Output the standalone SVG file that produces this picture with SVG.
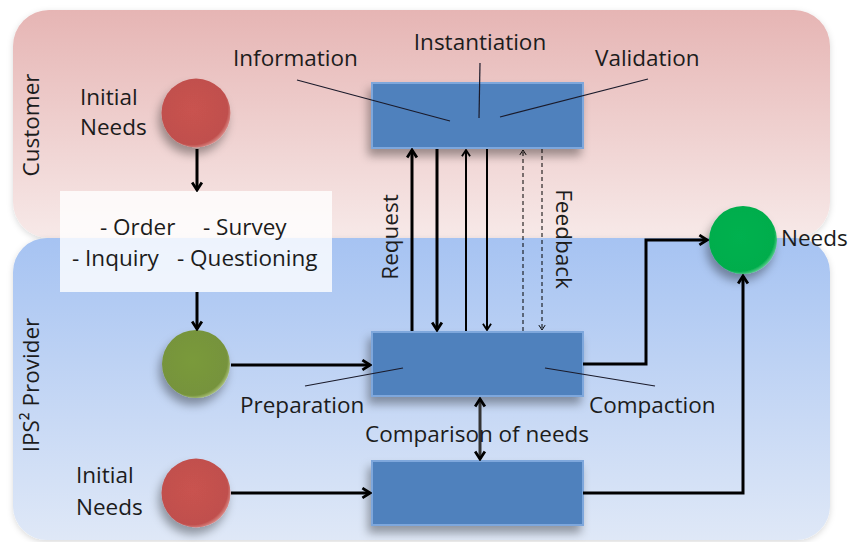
<svg xmlns="http://www.w3.org/2000/svg" width="851" height="542" viewBox="0 0 851 542">
<defs>
  <linearGradient id="gPink" x1="0" y1="0" x2="0" y2="1">
    <stop offset="0" stop-color="#e6b5b4"/>
    <stop offset="1" stop-color="#f7e9e8"/>
  </linearGradient>
  <linearGradient id="gBlue" x1="0" y1="0" x2="0" y2="1">
    <stop offset="0" stop-color="#a6c3f2"/>
    <stop offset="1" stop-color="#dfe8f7"/>
  </linearGradient>
  <radialGradient id="gRed" cx="0.45" cy="0.45" r="0.6">
    <stop offset="0" stop-color="#c9524f"/>
    <stop offset="0.85" stop-color="#c0504d"/>
    <stop offset="1" stop-color="#e9aaa7"/>
  </radialGradient>
  <radialGradient id="gGreen" cx="0.45" cy="0.45" r="0.6">
    <stop offset="0" stop-color="#00b14f"/>
    <stop offset="0.85" stop-color="#00ad4c"/>
    <stop offset="1" stop-color="#8fe0b0"/>
  </radialGradient>
  <radialGradient id="gOlive" cx="0.45" cy="0.45" r="0.6">
    <stop offset="0" stop-color="#7a9a3a"/>
    <stop offset="0.85" stop-color="#76933c"/>
    <stop offset="1" stop-color="#c9dba0"/>
  </radialGradient>
  <filter id="sh" x="-30%" y="-30%" width="160%" height="170%">
    <feDropShadow dx="-3" dy="7" stdDeviation="5" flood-color="#000" flood-opacity="0.35"/>
  </filter>
  <filter id="psh" x="-5%" y="-5%" width="110%" height="110%">
    <feDropShadow dx="0" dy="2" stdDeviation="3" flood-color="#000" flood-opacity="0.15"/>
  </filter>
  <marker id="aThick" viewBox="0 0 10 12" markerWidth="11" markerHeight="13" refX="8.5" refY="6" orient="auto" markerUnits="userSpaceOnUse">
    <path d="M1.5,1.5 L8.5,6 L1.5,10.5" fill="none" stroke="#000" stroke-width="2.6"/>
  </marker>
  <marker id="aThickR" viewBox="0 0 10 12" markerWidth="11" markerHeight="13" refX="8.5" refY="6" orient="auto-start-reverse" markerUnits="userSpaceOnUse">
    <path d="M1.5,1.5 L8.5,6 L1.5,10.5" fill="none" stroke="#000" stroke-width="2.6"/>
  </marker>
  <marker id="aThin" viewBox="0 0 10 12" markerWidth="9" markerHeight="11" refX="8.5" refY="6" orient="auto" markerUnits="userSpaceOnUse">
    <path d="M1.5,1.5 L8.5,6 L1.5,10.5" fill="none" stroke="#000" stroke-width="2"/>
  </marker>
  <marker id="aDash" viewBox="0 0 10 12" markerWidth="7" markerHeight="9" refX="8.5" refY="6" orient="auto" markerUnits="userSpaceOnUse">
    <path d="M1.5,1.5 L8.5,6 L1.5,10.5" fill="none" stroke="#000" stroke-width="1.4"/>
  </marker>
</defs>
<style>
  text { font-family: "Open Sans", "Liberation Sans", sans-serif; font-size: 22.5px; fill: #1c1c1c; }
  .box { fill: #4f81bd; stroke: #7ea7dc; stroke-width: 2; filter: url(#sh); }
  .lead { stroke: #1a1a2a; stroke-width: 1.2; fill: none; }
  .thick { stroke: #000; stroke-width: 3; fill: none; }
  .thin { stroke: #000; stroke-width: 2; fill: none; }
  .dash { stroke: #000; stroke-width: 1; fill: none; stroke-dasharray: 4 3; }
</style>

<g id="customer-lane">
  <rect x="13" y="10" width="817" height="228" rx="36" fill="url(#gPink)" filter="url(#psh)"/>
  <text transform="translate(39,125) rotate(-90)" text-anchor="middle">Customer</text>
</g>
<g id="provider-lane">
  <rect x="13" y="238" width="817" height="302" rx="34" fill="url(#gBlue)" filter="url(#psh)"/>
  <text transform="translate(39,385) rotate(-90)" text-anchor="middle">IPS² Provider</text>
</g>

<g id="initial-needs-customer">
  <circle cx="196" cy="113" r="34.5" fill="url(#gRed)" filter="url(#sh)"/>
  <text x="80" y="105">Initial</text>
  <text x="80" y="135">Needs</text>
</g>

<g id="channels-box">
  <rect x="60" y="191" width="272" height="101" fill="#ffffff" fill-opacity="0.8"/>
  <text x="100" y="235">- Order</text>
  <text x="203" y="235">- Survey</text>
  <text x="72" y="266">- Inquiry</text>
  <text x="177" y="266">- Questioning</text>
</g>

<g id="provider-needs">
  <circle cx="196" cy="364" r="34" fill="url(#gOlive)" filter="url(#sh)"/>
</g>

<g id="initial-needs-provider">
  <circle cx="196" cy="493" r="34.5" fill="url(#gRed)" filter="url(#sh)"/>
  <text x="76" y="483">Initial</text>
  <text x="76" y="515">Needs</text>
</g>

<g id="needs">
  <circle cx="743" cy="240" r="34" fill="url(#gGreen)" filter="url(#sh)"/>
  <text x="781" y="246">Needs</text>
</g>

<g id="customer-process">
  <rect class="box" x="372" y="83" width="211" height="65"/>
</g>
<g id="provider-process">
  <rect class="box" x="372" y="332" width="211" height="64"/>
</g>
<g id="provider-initial-process">
  <rect class="box" x="372" y="461" width="211" height="64"/>
</g>

<g id="labels">
  <text x="233" y="66">Information</text>
  <text x="480" y="50" text-anchor="middle">Instantiation</text>
  <text x="595" y="66">Validation</text>
  <text x="240" y="413">Preparation</text>
  <text x="589" y="413">Compaction</text>
  <line class="lead" x1="297" y1="80" x2="450" y2="121"/>
  <line class="lead" x1="480" y1="63" x2="479" y2="118"/>
  <line class="lead" x1="648" y1="79" x2="500" y2="117"/>
  <line class="lead" x1="305" y1="386" x2="403" y2="368"/>
  <line class="lead" x1="545" y1="368" x2="655" y2="386"/>
</g>

<g id="connectors">
  <line class="thick" x1="197" y1="149" x2="197" y2="190" marker-end="url(#aThick)"/>
  <line class="thick" x1="197" y1="292" x2="197" y2="329" marker-end="url(#aThick)"/>
  <line class="thick" x1="231" y1="365" x2="370" y2="365" marker-end="url(#aThick)"/>
  <line class="thick" x1="231" y1="493" x2="370" y2="493" marker-end="url(#aThick)"/>
  <polyline class="thick" points="583,364 646,364 646,240 707,240" marker-end="url(#aThick)"/>
  <polyline class="thick" points="583,493 743,493 743,276" marker-end="url(#aThick)"/>
  <line class="thick" x1="412" y1="331" x2="412" y2="150" marker-end="url(#aThick)"/>
  <line class="thick" x1="437" y1="149" x2="437" y2="330" marker-end="url(#aThick)"/>
  <line class="thin" x1="466" y1="331" x2="466" y2="150" marker-end="url(#aThin)"/>
  <line class="thin" x1="487" y1="149" x2="487" y2="330" marker-end="url(#aThin)"/>
  <line class="dash" x1="523" y1="331" x2="523" y2="150" marker-end="url(#aDash)"/>
  <line class="dash" x1="542" y1="149" x2="542" y2="330" marker-end="url(#aDash)"/>
  <line class="thick" x1="480" y1="399" x2="480" y2="459" marker-start="url(#aThickR)" marker-end="url(#aThickR)" style="stroke:#333"/>
  <text transform="translate(398,237) rotate(-90)" text-anchor="middle">Request</text>
  <text transform="translate(556,239) rotate(90)" text-anchor="middle">Feedback</text>
  <text x="365" y="442">Comparison of needs</text>
</g>
</svg>
